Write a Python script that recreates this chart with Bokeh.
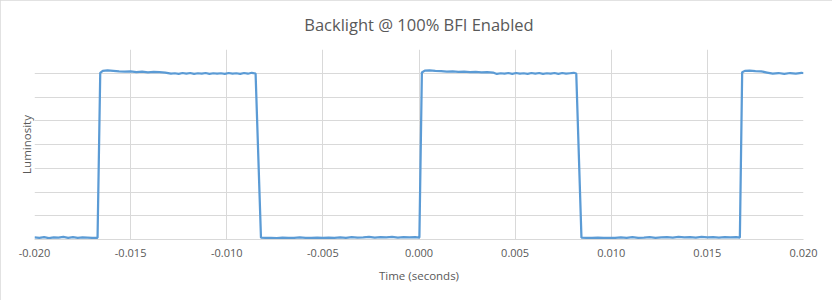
from bokeh.plotting import figure
from bokeh.models import FixedTicker, PrintfTickFormatter, Range1d
from bokeh.embed import file_html
from bokeh.resources import INLINE

# ---- data (time in seconds, luminosity in arbitrary units) ----
title_text = "Backlight @ 100% BFI Enabled"
x_ticks = [-0.020, -0.015, -0.010, -0.005, 0.000, 0.005, 0.010, 0.015, 0.020]
y_grid = [0, 1, 2, 3, 4, 5, 6, 7, 8]

low1_t = [-0.02000, -0.01975, -0.01950, -0.01925, -0.01900, -0.01875, -0.01850,
          -0.01825, -0.01800, -0.01775, -0.01750, -0.01725, -0.01700, -0.01672]
low1_y = [0.09, 0.07, 0.10, 0.06, 0.09, 0.08, 0.11, 0.07, 0.10, 0.07, 0.09, 0.08, 0.07, 0.07]

high1_t = [-0.01658, -0.01645, -0.01620, -0.01590, -0.01560, -0.01530, -0.01500, -0.01470,
           -0.01440, -0.01410, -0.01380, -0.01350, -0.01320, -0.01290, -0.01270, -0.01250,
           -0.01230, -0.01210, -0.01190, -0.01170, -0.01150, -0.01130, -0.01110, -0.01090,
           -0.01070, -0.01050, -0.01030, -0.01010, -0.00990, -0.00970, -0.00950, -0.00930,
           -0.00910, -0.00890, -0.00870, -0.00850]
high1_y = [7.02, 7.10, 7.12, 7.10, 7.08, 7.07, 7.08, 7.05, 7.07, 7.04, 7.06, 7.05,
           7.03, 6.98, 7.00, 6.97, 7.01, 6.98, 7.01, 6.97, 7.00, 6.98, 7.01, 6.97,
           7.00, 6.98, 7.00, 6.97, 7.01, 6.98, 7.00, 6.97, 7.01, 6.98, 7.02, 6.99]

low2_t = [-0.00822, -0.00800, -0.00770, -0.00740, -0.00710, -0.00680, -0.00650, -0.00620,
          -0.00590, -0.00560, -0.00530, -0.00500, -0.00470, -0.00440, -0.00410, -0.00380,
          -0.00350, -0.00320, -0.00290, -0.00260, -0.00230, -0.00200, -0.00170, -0.00140,
          -0.00110, -0.00080, -0.00050, -0.00020, 0.00002]
low2_y = [0.08, 0.07, 0.07, 0.06, 0.08, 0.07, 0.07, 0.09, 0.07, 0.07, 0.08, 0.07, 0.08,
          0.07, 0.09, 0.07, 0.10, 0.08, 0.09, 0.11, 0.08, 0.10, 0.09, 0.11, 0.08, 0.10,
          0.09, 0.10, 0.08]

high2_t = [0.00015, 0.00030, 0.00055, 0.00085, 0.00115, 0.00145, 0.00175, 0.00205,
           0.00235, 0.00265, 0.00295, 0.00325, 0.00355, 0.00385, 0.00405, 0.00425,
           0.00445, 0.00465, 0.00485, 0.00505, 0.00525, 0.00545, 0.00565, 0.00585,
           0.00605, 0.00625, 0.00645, 0.00665, 0.00685, 0.00705, 0.00725, 0.00745,
           0.00765, 0.00785, 0.00805, 0.00818]
high2_y = [7.03, 7.11, 7.12, 7.10, 7.09, 7.07, 7.08, 7.06, 7.07, 7.05, 7.06, 7.04,
           7.05, 7.03, 6.97, 7.00, 6.98, 7.01, 6.97, 7.01, 6.98, 7.00, 6.97, 7.01,
           6.98, 7.01, 6.97, 7.00, 6.98, 7.01, 6.97, 7.01, 6.98, 7.00, 7.02, 6.99]

low3_t = [0.00845, 0.00870, 0.00900, 0.00930, 0.00960, 0.00990, 0.01020, 0.01050,
          0.01080, 0.01110, 0.01140, 0.01170, 0.01200, 0.01230, 0.01260, 0.01290,
          0.01320, 0.01350, 0.01380, 0.01410, 0.01440, 0.01470, 0.01500, 0.01530,
          0.01560, 0.01590, 0.01620, 0.01650, 0.01669]
low3_y = [0.08, 0.07, 0.07, 0.08, 0.07, 0.07, 0.07, 0.09, 0.07, 0.10, 0.07, 0.08, 0.10,
          0.07, 0.09, 0.10, 0.08, 0.11, 0.09, 0.10, 0.08, 0.11, 0.09, 0.10, 0.08, 0.10,
          0.09, 0.10, 0.08]

high3_t = [0.01681, 0.01695, 0.01720, 0.01750, 0.01780, 0.01810, 0.01840, 0.01870,
           0.01900, 0.01930, 0.01960, 0.01990, 0.02000]
high3_y = [7.04, 7.10, 7.11, 7.09, 7.08, 7.03, 6.98, 7.01, 6.97, 7.01, 6.98, 7.02, 7.00]

time_s = low1_t + high1_t + low2_t + high2_t + low3_t + high3_t
luminosity = low1_y + high1_y + low2_y + high2_y + low3_y + high3_y

# ---- figure ----
FONT = "Open Sans"
TXT = "#595959"
GRID = "#D9D9D9"

p = figure(width=832, height=300, output_backend="svg", toolbar_location=None,
           x_range=Range1d(-0.02, 0.02), y_range=Range1d(0, 8),
           min_border_left=34, min_border_right=29, min_border_top=49, min_border_bottom=61,
           title=title_text)
p.styles = {"outline": "1px solid #D9D9D9", "outline-offset": "-1px"}
p.outline_line_color = None
p.background_fill_color = "white"
p.border_fill_color = "white"

p.title.align = "center"
p.title.vertical_align = "top"
p.title.text_font = FONT
p.title.text_font_size = "16.5px"
p.title.text_font_style = "normal"
p.title.text_color = TXT
p.title.standoff = 23

p.line(time_s, luminosity, line_color="#5B9BD5", line_width=2.25)

p.xaxis.ticker = FixedTicker(ticks=x_ticks)
p.xaxis.formatter = PrintfTickFormatter(format="%.3f")
p.xaxis.axis_label = "Time (seconds)"
p.xaxis.axis_line_color = GRID
p.xaxis.major_tick_line_color = None
p.xaxis.minor_tick_line_color = None
p.xaxis.major_tick_out = 0
p.xaxis.major_tick_in = 0
p.xaxis.major_label_standoff = 9
p.xaxis.axis_label_standoff = 8
p.xaxis.major_label_text_font = FONT
p.xaxis.major_label_text_font_size = "11px"
p.xaxis.major_label_text_color = TXT
p.xaxis.axis_label_text_font = FONT
p.xaxis.axis_label_text_font_size = "11.5px"
p.xaxis.axis_label_text_font_style = "normal"
p.xaxis.axis_label_text_color = TXT

p.yaxis.ticker = FixedTicker(ticks=[])
p.yaxis.axis_label = "Luminosity"
p.yaxis.axis_line_color = None
p.yaxis.major_tick_line_color = None
p.yaxis.minor_tick_line_color = None
p.yaxis.major_tick_out = 0
p.yaxis.major_tick_in = 0
p.yaxis.axis_label_standoff = 1
p.yaxis.axis_label_text_font = FONT
p.yaxis.axis_label_text_font_size = "11.5px"
p.yaxis.axis_label_text_font_style = "normal"
p.yaxis.axis_label_text_color = TXT

p.xgrid.ticker = FixedTicker(ticks=x_ticks)
p.ygrid.ticker = FixedTicker(ticks=y_grid)
p.xgrid.grid_line_color = GRID
p.ygrid.grid_line_color = GRID

open("out.html", "w").write(file_html(p, INLINE))
